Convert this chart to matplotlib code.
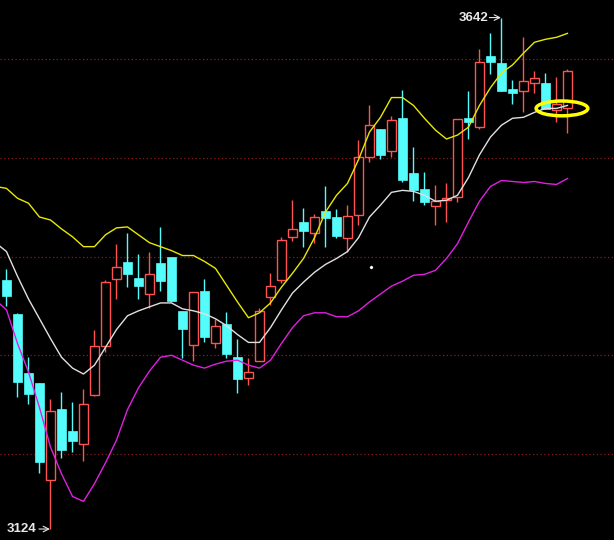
import numpy as np
import matplotlib.pyplot as plt
from matplotlib.patches import Ellipse

# K线数据 (开, 高, 低, 收)
opens = [3376, 3342, 3282, 3272, 3174, 3246, 3223, 3210, 3260, 3309,
         3377, 3394, 3378, 3362, 3393, 3400, 3345, 3310, 3365, 3312,
         3332, 3298, 3277, 3294, 3359, 3376, 3420, 3435, 3424, 3446,
         3440, 3419, 3442, 3501, 3529, 3507, 3540, 3485, 3468, 3451,
         3457, 3460, 3540, 3531, 3603, 3596, 3570, 3568, 3576, 3576,
         3548, 3550]
highs = [3387, 3343, 3298, 3272, 3256, 3263, 3253, 3266, 3326, 3376,
         3413, 3424, 3403, 3405, 3430, 3400, 3345, 3364, 3377, 3337,
         3344, 3316, 3297, 3348, 3383, 3420, 3457, 3449, 3443, 3471,
         3448, 3452, 3518, 3553, 3529, 3542, 3569, 3511, 3486, 3472,
         3474, 3539, 3568, 3610, 3626, 3642, 3579, 3622, 3588, 3586,
         3582, 3590]
lows = [3350, 3258, 3251, 3181, 3124, 3196, 3202, 3193, 3259, 3303,
        3357, 3369, 3357, 3348, 3365, 3354, 3297, 3294, 3313, 3307,
        3297, 3262, 3270, 3294, 3351, 3373, 3416, 3410, 3414, 3410,
        3419, 3405, 3432, 3496, 3499, 3501, 3475, 3456, 3452, 3432,
        3435, 3455, 3519, 3529, 3585, 3568, 3554, 3546, 3566, 3549,
        3536, 3525]
closes = [3360, 3273, 3261, 3192, 3244, 3204, 3213, 3251, 3309, 3374,
          3389, 3382, 3370, 3382, 3375, 3355, 3327, 3364, 3318, 3330,
          3301, 3276, 3283, 3345, 3370, 3417, 3428, 3426, 3440, 3439,
          3421, 3441, 3501, 3533, 3503, 3538, 3478, 3467, 3455, 3456,
          3459, 3539, 3536, 3597, 3597, 3568, 3566, 3578, 3581, 3549,
          3554, 3588]

# 布林线 (从 -1 开始)
upper = [3471, 3469, 3459, 3454, 3440, 3437, 3428, 3420, 3410, 3410,
         3422, 3429, 3430, 3422, 3414, 3410, 3406, 3401, 3401, 3395,
         3388, 3371, 3354, 3338, 3343, 3353, 3369, 3383, 3398, 3419,
         3445, 3462, 3474, 3498, 3526, 3541, 3561, 3561, 3553, 3540,
         3528, 3519, 3523, 3531, 3553, 3571, 3586, 3594, 3606, 3617,
         3620, 3622, 3626]
mid = [3414, 3405, 3380, 3357, 3337, 3317, 3298, 3287, 3281, 3290,
       3308, 3326, 3340, 3345, 3349, 3353, 3353, 3347, 3345, 3342,
       3337, 3330, 3321, 3313, 3313, 3328, 3346, 3363, 3374, 3384,
       3392, 3398, 3405, 3419, 3440, 3452, 3465, 3467, 3466, 3462,
       3456, 3457, 3462, 3480, 3503, 3521, 3533, 3540, 3541, 3546,
       3550, 3550, 3553]
lower = [3356, 3346, 3312, 3283, 3247, 3207, 3180, 3157, 3152, 3170,
         3191, 3214, 3245, 3267, 3284, 3298, 3300, 3295, 3290, 3287,
         3291, 3294, 3295, 3290, 3287, 3295, 3312, 3328, 3340, 3343,
         3343, 3339, 3339, 3345, 3354, 3362, 3370, 3375, 3381, 3382,
         3386, 3398, 3413, 3435, 3456, 3471, 3477, 3476, 3475, 3476,
         3474, 3473, 3479]

grid_levels = [3200, 3300, 3400, 3500, 3600]

RED = '#ff5252'
CYAN = '#54fcfc'

fig = plt.figure(figsize=(6.14, 5.4), dpi=100, facecolor='black')
ax = fig.add_axes([0, 0, 1, 1], facecolor='black')

for g in grid_levels:
    ax.axhline(g, color='#8a1c1c', lw=0.9, linestyle=(0, (1, 2)), zorder=0)

n = len(opens)
w = 0.8
for i in range(n):
    o, h, l, c = opens[i], highs[i], lows[i], closes[i]
    top, bot = max(o, c), min(o, c)
    if c >= o:
        ax.vlines(i, top, h, color=RED, lw=1, zorder=2)
        ax.vlines(i, l, bot, color=RED, lw=1, zorder=2)
        ax.bar(i, max(top - bot, 0.5), bottom=bot, width=w, facecolor='black',
               edgecolor=RED, lw=1, zorder=2)
    else:
        ax.vlines(i, l, h, color=CYAN, lw=1, zorder=2)
        ax.bar(i, top - bot, bottom=bot, width=w, facecolor=CYAN,
               edgecolor=CYAN, lw=0.5, zorder=2)

xs = np.arange(-1, n)
ax.plot(xs, upper, color='#e8e800', lw=1, zorder=3)
ax.plot(xs, mid, color='#e0e0e0', lw=1, zorder=3)
ax.plot(xs, lower, color='#e020e0', lw=1, zorder=3)

# 最高/最低标注
hi_i = int(np.argmax(highs))
lo_i = int(np.argmin(lows))
lab = dict(color='#e8e8e8', fontsize=9.5, fontweight='bold',
           family=['Liberation Sans', 'DejaVu Sans'], va='center', ha='right')
ax.text(hi_i - 1.2, highs[hi_i], str(highs[hi_i]), **lab)
ax.annotate('', xy=(hi_i - 0.05, highs[hi_i]), xytext=(hi_i - 1.1, highs[hi_i]),
            arrowprops=dict(arrowstyle='->', color='#e8e8e8', lw=0.8,
                            shrinkA=0, shrinkB=0))
ax.text(lo_i - 1.3, lows[lo_i], str(lows[lo_i]), **lab)
ax.annotate('', xy=(lo_i - 0.05, lows[lo_i]), xytext=(lo_i - 1.05, lows[lo_i]),
            arrowprops=dict(arrowstyle='->', color='#e8e8e8', lw=0.8,
                            shrinkA=0, shrinkB=0))

# 黄色圈
ax.add_patch(Ellipse((50.5, 3550), 4.7, 15, fill=False, edgecolor='#ffff00',
                     lw=2.5, zorder=4))
ax.plot([33.1], [3389], marker='D', ms=1.2, color='white', zorder=4)

ax.set_xlim(-0.59, 55.23)
ax.set_ylim(3112.9, 3659.8)
ax.axis('off')

fig.savefig('out.png', dpi=100, facecolor='black')
